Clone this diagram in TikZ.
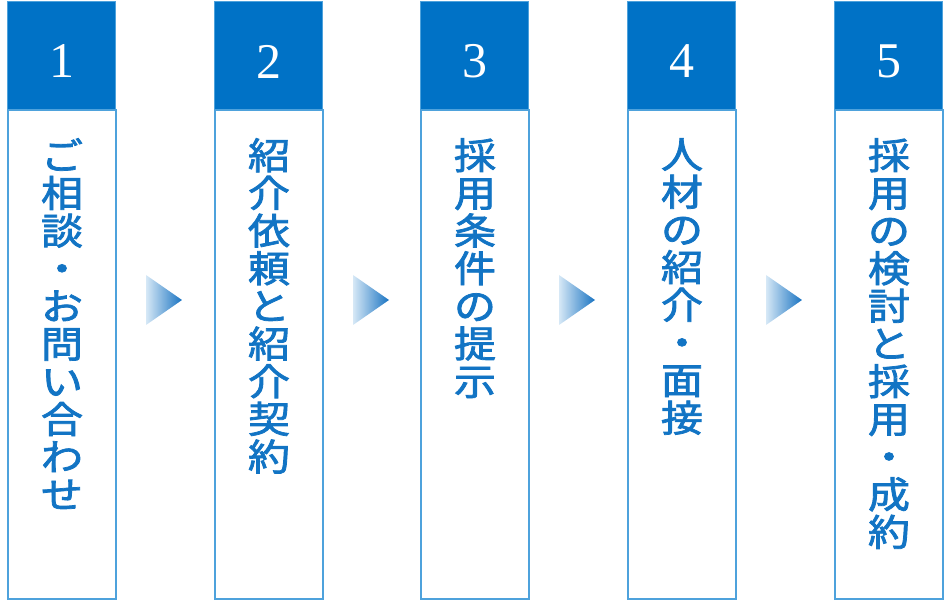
\documentclass[tikz,border=0pt]{standalone}
\usepackage{fontspec}
\usepackage{graphicx}
\newfontfamily\jpfont[FakeBold=2]{Noto Sans CJK JP}
\newfontfamily\numfont{Liberation Serif}
\definecolor{hdrblue}{HTML}{0072C6}
\definecolor{txtblue}{HTML}{1274C4}
\definecolor{brdblue}{HTML}{4EA2DC}
\definecolor{arrlight}{HTML}{D6E8F6}
\definecolor{arrdark}{HTML}{1A74C2}
\newcommand\vstack[1]{\scalebox{1}[0.88]{\vbox{\lineskiplimit=-100pt\lineskip=0pt\baselineskip=42.8pt\halign{\hfil##\hfil\cr#1\crcr}}}}
\tikzset{
  hdr/.style={fill=hdrblue, draw=brdblue, line width=1pt, minimum width=108pt, minimum height=108pt, anchor=north west, inner sep=0pt},
  body/.style={draw=brdblue, line width=2pt, minimum width=108pt, minimum height=489pt, anchor=north west, inner sep=0pt},
  num/.style={text=white, font=\numfont\fontsize{50}{50}\selectfont, inner sep=0pt},
  label/.style={anchor=north, inner sep=0pt, text=txtblue, font=\jpfont\fontsize{42}{42.8}\selectfont},
}
\begin{document}
\begin{tikzpicture}[x=1pt,y=1pt]
\useasboundingbox (0,0) rectangle (950,-601);
\foreach \i/\xl/\n/\t in {
 1/7/1/{ご\cr 相\cr 談\cr ・\cr お\cr 問\cr い\cr 合\cr わ\cr せ},
 2/214/2/{紹\cr 介\cr 依\cr 頼\cr と\cr 紹\cr 介\cr 契\cr 約},
 3/420/3/{採\cr 用\cr 条\cr 件\cr の\cr 提\cr 示},
 4/627/4/{人\cr 材\cr の\cr 紹\cr 介\cr ・\cr 面\cr 接},
 5/834/5/{採\cr 用\cr の\cr 検\cr 討\cr と\cr 採\cr 用\cr ・\cr 成\cr 約}} {
  \node[body] (b\i) at (\xl,-109) {};
  \node[hdr] (h\i) at (\xl,-1) {};
  \node[num] (n\i) at ([yshift=-6pt]h\i.center) {\n};
  \node[label] (t\i) at ([yshift=-29pt]b\i.north) {\vstack{\t}};
}
\foreach \i in {1,2,3,4} {
  \coordinate (a\i) at ([xshift=29pt,yshift=-166pt]b\i.north east);
  \shade[left color=arrlight, right color=arrdark] (a\i) -- ([yshift=-50pt]a\i) -- ([xshift=36pt,yshift=-25pt]a\i) -- cycle;
}
\end{tikzpicture}
\end{document}
